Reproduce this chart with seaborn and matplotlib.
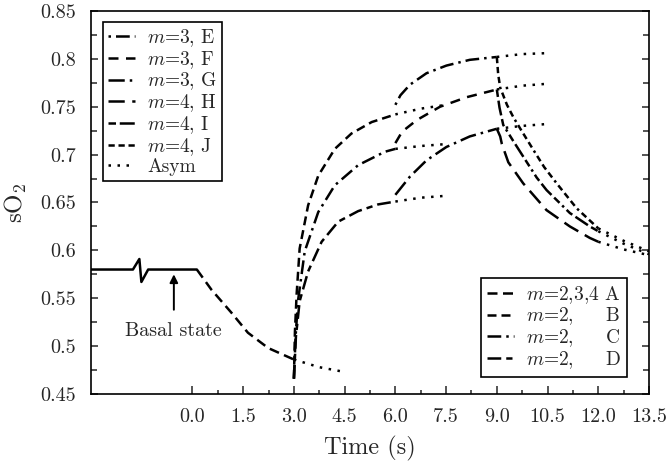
import matplotlib
matplotlib.use("Agg")
import matplotlib.pyplot as plt
import seaborn as sns
from matplotlib.lines import Line2D

# ---------------- data ----------------
basal_t = [-3.0, -1.76, -1.57, -1.51, -1.31, 0.13]
basal_y = [0.58, 0.58, 0.591, 0.567, 0.58, 0.58]

A_t = [0.13, 0.56, 1.15, 1.64, 2.24, 3.0]
A_y = [0.580, 0.559, 0.535, 0.514, 0.498, 0.486]
A_asym_t = [3.0, 3.75, 4.5]
A_asym_y = [0.486, 0.478, 0.473]

B_t = [3.0, 3.03, 3.08, 3.17, 3.42, 3.72, 4.21, 4.70, 5.30, 6.0]
B_y = [0.466, 0.515, 0.554, 0.602, 0.647, 0.678, 0.706, 0.722, 0.734, 0.742]
B_asym_t = [6.0, 6.75, 7.5]
B_asym_y = [0.742, 0.748, 0.752]

C_t = [3.0, 3.05, 3.12, 3.32, 3.72, 4.21, 4.90, 5.69, 6.0]
C_y = [0.466, 0.510, 0.547, 0.599, 0.640, 0.668, 0.689, 0.703, 0.706]
C_asym_t = [6.0, 6.75, 7.5]
C_asym_y = [0.706, 0.709, 0.711]

D_t = [3.0, 3.06, 3.17, 3.42, 3.82, 4.31, 4.90, 5.49, 6.0]
D_y = [0.466, 0.510, 0.547, 0.578, 0.609, 0.630, 0.641, 0.648, 0.651]
D_asym_t = [6.0, 6.75, 7.5]
D_asym_y = [0.651, 0.655, 0.657]

E_t = [6.0, 6.15, 6.43, 6.92, 7.51, 8.2, 9.0]
E_y = [0.752, 0.762, 0.773, 0.785, 0.793, 0.799, 0.802]
E_asym_t = [9.0, 9.75, 10.5]
E_asym_y = [0.802, 0.805, 0.806]

F_t = [6.0, 6.2, 6.63, 7.32, 8.11, 9.0]
F_y = [0.712, 0.724, 0.736, 0.750, 0.760, 0.768]
F_asym_t = [9.0, 9.75, 10.5]
F_asym_y = [0.768, 0.772, 0.774]

G_t = [6.0, 6.43, 6.92, 7.51, 8.2, 9.0]
G_y = [0.658, 0.677, 0.694, 0.708, 0.719, 0.727]
G_asym_t = [9.0, 9.75, 10.5]
G_asym_y = [0.727, 0.730, 0.732]

H_t = [9.0, 9.1, 9.15, 9.34, 9.78, 10.47, 11.16, 11.75, 12.0]
H_y = [0.727, 0.719, 0.711, 0.692, 0.670, 0.642, 0.625, 0.613, 0.609]
H_asym_t = [12.0, 12.75, 13.5]
H_asym_y = [0.609, 0.601, 0.595]

I_t = [9.0, 9.08, 9.19, 9.49, 9.78, 10.18, 10.47, 11.16, 11.75, 12.0]
I_y = [0.768, 0.749, 0.731, 0.714, 0.698, 0.676, 0.663, 0.639, 0.625, 0.620]
I_asym_t = [12.0, 12.75, 13.5]
I_asym_y = [0.620, 0.607, 0.596]

J_t = [9.0, 9.04, 9.1, 9.3, 9.49, 9.73, 10.08, 10.4, 10.77, 11.36, 12.0]
J_y = [0.802, 0.784, 0.770, 0.752, 0.739, 0.725, 0.705, 0.687, 0.670, 0.644, 0.623]
J_asym_t = [12.0, 12.75, 13.5]
J_asym_y = [0.623, 0.610, 0.599]

x_major = [0.0, 1.5, 3.0, 4.5, 6.0, 7.5, 9.0, 10.5, 12.0, 13.5]
x_minor = [0.75, 2.25, 3.75, 5.25, 6.75, 8.25, 9.75, 11.25, 12.75]
x_labels = ["0.0", "1.5", "3.0", "4.5", "6.0", "7.5", "9.0", "10.5", "12.0", "13.5"]
y_major = [0.45, 0.5, 0.55, 0.6, 0.65, 0.7, 0.75, 0.8, 0.85]
y_minor = [0.475, 0.525, 0.575, 0.625, 0.675, 0.725, 0.775, 0.825]
y_labels = ["0.45", "0.5", "0.55", "0.6", "0.65", "0.7", "0.75", "0.8", "0.85"]

legend1_labels = ["$m$=3, E", "$m$=3, F", "$m$=3, G", "$m$=4, H", "$m$=4, I", "$m$=4, J", "Asym"]
legend2_labels = ["$m$=2,3,4 A", "$m$=2,     B", "$m$=2,     C", "$m$=2,     D"]

# ---------------- styles ----------------
st = {
    "A": (0, (4.0, 2.2)),
    "B": (0, (3.6, 2.0)),
    "C": (0, (5.5, 2.0, 1.0, 2.0)),
    "D": (0, (5.5, 2.0, 2.5, 2.0)),
    "E": (0, (1.0, 2.0, 5.5, 2.0)),
    "F": (0, (4.0, 3.0)),
    "G": (0, (6.5, 2.0, 1.0, 2.0)),
    "H": (0, (6.5, 3.0)),
    "I": (0, (3.0, 1.5, 6.0, 1.5, 3.0, 1.5, 1.0, 1.5)),
    "J": (0, (2.5, 1.5, 2.5, 1.5, 2.5, 1.5, 1.0, 1.5)),
    "asym": (0, (1.0, 2.6)),
}
LW = 1.8

sns.set_style("ticks")
plt.rcParams["font.family"] = ["cmr10"]
plt.rcParams["mathtext.fontset"] = "cm"
plt.rcParams["axes.formatter.use_mathtext"] = True
plt.rcParams["axes.unicode_minus"] = False

fig = plt.figure(figsize=(6.7, 4.65), dpi=100)
ax = fig.add_axes([91 / 670, 1 - 394 / 465, (649 - 91) / 670, (394 - 11) / 465])


def draw(t, y, ls):
    sns.lineplot(x=t, y=y, ax=ax, color="black", linewidth=LW, linestyle=ls,
                 estimator=None, sort=False)


draw(basal_t, basal_y, "-")
series = [
    (A_t, A_y, "A", A_asym_t, A_asym_y),
    (B_t, B_y, "B", B_asym_t, B_asym_y),
    (C_t, C_y, "C", C_asym_t, C_asym_y),
    (D_t, D_y, "D", D_asym_t, D_asym_y),
    (E_t, E_y, "E", E_asym_t, E_asym_y),
    (F_t, F_y, "F", F_asym_t, F_asym_y),
    (G_t, G_y, "G", G_asym_t, G_asym_y),
    (H_t, H_y, "H", H_asym_t, H_asym_y),
    (I_t, I_y, "I", I_asym_t, I_asym_y),
    (J_t, J_y, "J", J_asym_t, J_asym_y),
]
for t, y, key, at, ay in series:
    draw(at, ay, st["asym"])
    draw(t, y, st[key])

ax.set_xlim(-3.0, 13.5)
ax.set_ylim(0.45, 0.85)
ax.set_xticks(x_major)
ax.set_xticklabels(x_labels)
ax.set_xticks(x_minor, minor=True)
ax.set_yticks(y_major)
ax.set_yticklabels(y_labels)
ax.set_yticks(y_minor, minor=True)
ax.tick_params(axis="both", which="both", direction="in", width=1.1, labelsize=14.5,
               right=True, top=False)
ax.tick_params(axis="x", which="major", length=6, pad=10)
ax.tick_params(axis="x", which="minor", length=3)
ax.tick_params(axis="y", which="major", length=5, pad=11)
ax.tick_params(axis="y", which="minor", length=4)
for s in ax.spines.values():
    s.set_linewidth(1.2)
    s.set_color("black")

ax.set_xlabel("Time (s)", fontsize=17.5, labelpad=7)
ax.set_ylabel("sO$_2$", fontsize=18, labelpad=8)

# annotation
ax.annotate("", xy=(-0.55, 0.575), xytext=(-0.55, 0.538),
            arrowprops=dict(arrowstyle="-|>", color="black", lw=1.4,
                            mutation_scale=12, shrinkA=0, shrinkB=0))
ax.text(-0.55, 0.516, "Basal state", ha="center", va="center", fontsize=14.5)

# legends
h1 = [Line2D([], [], color="black", lw=LW, linestyle=st[k]) for k in ["E", "F", "G", "H", "I", "J", "asym"]]
leg1 = ax.legend(h1, legend1_labels, loc="upper left", bbox_to_anchor=(0.022, 0.971),
                 fontsize=14, frameon=True, fancybox=False, framealpha=1,
                 edgecolor="black", handlelength=1.4, handletextpad=0.6,
                 labelspacing=0.0, borderpad=0.25, borderaxespad=0)
leg1.get_frame().set_linewidth(1.2)
ax.add_artist(leg1)

h2 = [Line2D([], [], color="black", lw=LW, linestyle=st[k]) for k in ["A", "B", "C", "D"]]
leg2 = ax.legend(h2, legend2_labels, loc="lower right", bbox_to_anchor=(0.961, 0.045),
                 fontsize=14, frameon=True, fancybox=False, framealpha=1,
                 edgecolor="black", handlelength=1.4, handletextpad=0.6,
                 labelspacing=0.0, borderpad=0.3, borderaxespad=0)
leg2.get_frame().set_linewidth(1.2)

fig.savefig("out.png", dpi=100)
